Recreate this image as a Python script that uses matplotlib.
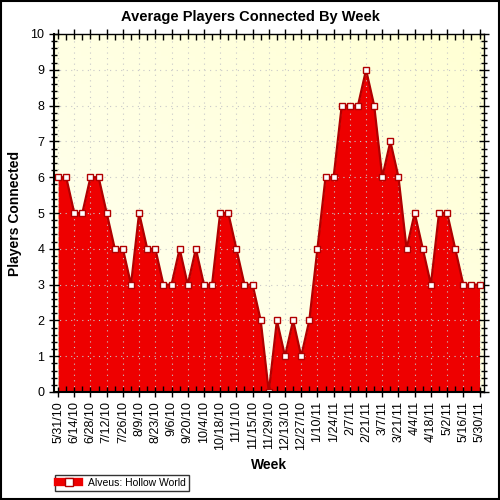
import numpy as np
import matplotlib
matplotlib.use('Agg')
import matplotlib.pyplot as plt
from matplotlib.lines import Line2D
from matplotlib.patches import Rectangle

plt.rcParams['font.family'] = ['Liberation Sans', 'DejaVu Sans']

# weekly averages, 5/31/10 .. 5/30/11
players = [6, 6, 5, 5, 6, 6, 5, 4, 4, 3,
           5, 4, 4, 3, 3, 4, 3, 4, 3, 3,
           5, 5, 4, 3, 3, 2, 0, 2, 1, 2,
           1, 2, 4, 6, 6, 8, 8, 8, 9, 8,
           6, 7, 6, 4, 5, 4, 3, 5, 5, 4,
           3, 3, 3]
week_labels = ['5/31/10', '6/14/10', '6/28/10', '7/12/10', '7/26/10', '8/9/10',
               '8/23/10', '9/6/10', '9/20/10', '10/4/10', '10/18/10', '11/1/10',
               '11/15/10', '11/29/10', '12/13/10', '12/27/10', '1/10/11', '1/24/11',
               '2/7/11', '2/21/11', '3/7/11', '3/21/11', '4/4/11', '4/18/11',
               '5/2/11', '5/16/11', '5/30/11']
series_name = 'Alveus: Hollow World'

FILL_RED = '#EE0000'
EDGE_RED = '#B00000'

x = np.arange(len(players))

fig = plt.figure(figsize=(5, 5), dpi=100)
ax = fig.add_axes([0.108, 0.216, 0.86, 0.716])

# light yellow gradient background
grad = np.linspace(0, 1, 64)
gx, gy = np.meshgrid(grad, grad)
g = (gx + gy) / 2
bg = np.zeros((64, 64, 3))
bg[..., 0] = 1.0
bg[..., 1] = 1.0
bg[..., 2] = (242 - 30 * g) / 255.0
ax.imshow(bg, extent=[-0.5, 52.55, 0, 10], origin='lower', aspect='auto', zorder=0)

ax.fill_between(x, players, 0, color=FILL_RED, zorder=2, lw=0)
ax.plot(x, players, color=EDGE_RED, lw=1.6, zorder=3)
ax.plot(x, players, 's', ms=5, mfc='white', mec=EDGE_RED, mew=1, zorder=4)

ax.set_xlim(-0.5, 52.55)
ax.set_ylim(0, 10)

ax.set_xticks(x[::2])
ax.set_xticklabels(week_labels, rotation=90, fontsize=9)
ax.set_xticks(x[1::2], minor=True)
ax.set_yticks(range(11))
ax.set_yticks(np.arange(0, 10.01, 0.2), minor=True)
ax.tick_params(axis='y', labelsize=9, direction='inout', length=7, width=1)
ax.tick_params(axis='y', which='minor', direction='inout', length=4, width=1)
ax.tick_params(axis='x', direction='inout', length=7, width=1, pad=3)
ax.tick_params(axis='x', which='minor', direction='in', length=4, width=1)
ax.tick_params(which='both', top=True, right=True)

ax.grid(True, which='major', color='#C8C8C8', linestyle=(0, (1, 4)), lw=0.8, zorder=1)
ax.set_axisbelow(False)
for s in ax.spines.values():
    s.set_linewidth(1)
    s.set_zorder(5)
ax.spines['left'].set_linewidth(1.5)
ax.spines['bottom'].set_linewidth(1.5)

fig.text(0.5, 1 - 17 / 500, 'Average Players Connected By Week', fontsize=10.5,
         fontweight='bold', ha='center', va='center')
ax.set_xlabel('Week', fontsize=10, fontweight='bold', labelpad=6)
ax.set_ylabel('Players Connected', fontsize=10, fontweight='bold', va='center')
ax.yaxis.set_label_coords(-0.091, 0.5)

handle = Line2D([0], [0], color=FILL_RED, lw=6, marker='s', ms=6,
                mfc='white', mec=EDGE_RED)
leg = fig.legend([handle], [series_name], loc='lower left',
                 bbox_to_anchor=(0.11, 0.018), fontsize=7.5, frameon=True,
                 fancybox=False, edgecolor='black', handlelength=2.0,
                 borderpad=0.3, handletextpad=0.9, borderaxespad=0)
leg.get_frame().set_linewidth(1)

# outer border
fig.patches.append(Rectangle((0.002, 0.002), 0.996, 0.996, transform=fig.transFigure,
                             fill=False, edgecolor='black', lw=1.5))

fig.savefig('out.png', dpi=100)
